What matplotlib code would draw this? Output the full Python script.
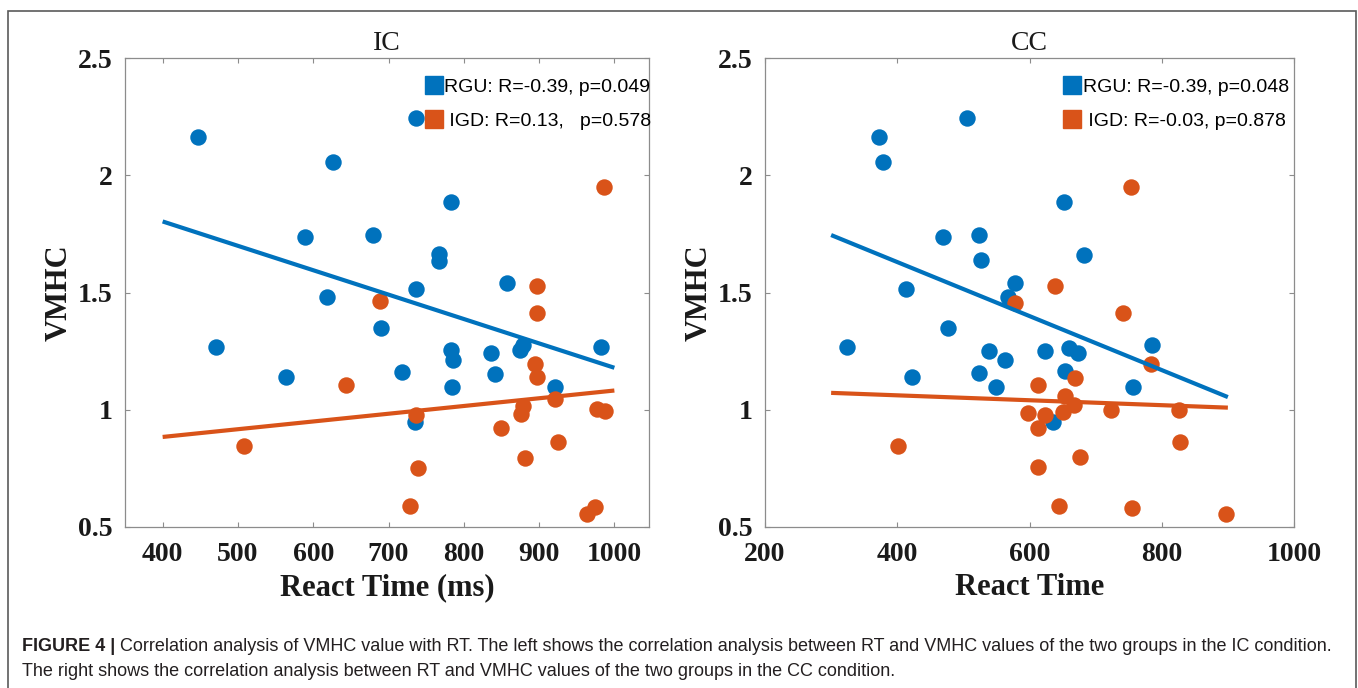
import numpy as np
import matplotlib.pyplot as plt
from matplotlib.lines import Line2D
from matplotlib.patches import Rectangle
from matplotlib.text import Annotation

# IC condition
ic_rgu_rt = [447, 626, 736, 783, 589, 679, 767, 767, 858, 736, 618, 690, 471,
             783, 786, 836, 874, 879, 982, 564, 718, 842, 784, 921, 735]
ic_rgu_vmhc = [2.163, 2.058, 2.245, 1.888, 1.735, 1.745, 1.664, 1.635, 1.539, 1.515,
               1.479, 1.348, 1.267, 1.255, 1.214, 1.244, 1.255, 1.274, 1.267, 1.139,
               1.160, 1.153, 1.099, 1.099, 0.948]
ic_igd_rt = [986, 897, 689, 897, 895, 897, 644, 921, 879, 876, 977, 988, 737, 850,
             508, 925, 881, 739, 729, 974, 964]
ic_igd_vmhc = [1.948, 1.528, 1.465, 1.413, 1.196, 1.139, 1.106, 1.047, 1.018, 0.983,
               1.004, 0.994, 0.976, 0.923, 0.844, 0.862, 0.795, 0.753, 0.590, 0.586,
               0.557]
ic_fit_x = [400, 1000]
ic_rgu_fit = [1.803, 1.179]
ic_igd_fit = [0.884, 1.082]
ic_labels = ['RGU: R=-0.39, p=0.049', ' IGD: R=0.13,   p=0.578']

# CC condition
cc_rgu_rt = [506, 373, 378, 652, 469, 523, 526, 682, 413, 578, 567, 477, 324, 786,
             538, 624, 659, 673, 563, 524, 653, 423, 549, 757, 635]
cc_rgu_vmhc = [2.245, 2.163, 2.058, 1.888, 1.735, 1.745, 1.638, 1.661, 1.515, 1.539,
               1.479, 1.348, 1.267, 1.277, 1.252, 1.252, 1.262, 1.243, 1.214, 1.156,
               1.165, 1.139, 1.099, 1.099, 0.948]
cc_igd_rt = [754, 638, 578, 742, 784, 669, 613, 653, 667, 651, 724, 826, 597, 624,
             613, 401, 827, 676, 613, 644, 755, 897]
cc_igd_vmhc = [1.948, 1.528, 1.455, 1.413, 1.196, 1.135, 1.106, 1.058, 1.019, 0.991,
               1.000, 0.997, 0.986, 0.976, 0.922, 0.845, 0.862, 0.799, 0.756, 0.590,
               0.583, 0.557]
cc_fit_x = [300, 900]
cc_rgu_fit = [1.745, 1.054]
cc_igd_fit = [1.072, 1.009]
cc_labels = ['RGU: R=-0.39, p=0.048', ' IGD: R=-0.03, p=0.878']

blue = '#0072BD'
orange = '#D95319'
serif = ['Liberation Serif', 'DejaVu Serif']

fig = plt.figure(figsize=(13.58, 6.88), dpi=100)
ax1 = fig.add_axes([125 / 1358, 1 - 527 / 688, 524 / 1358, 469 / 688])
ax2 = fig.add_axes([765 / 1358, 1 - 527 / 688, 529 / 1358, 469 / 688])


def panel(ax, title, xlabel, rx, ry, ox, oy, fx, fb, fo, labels, xlim, xticks, legx):
    ax.scatter(rx, ry, s=140, color=blue, linewidths=0, zorder=3)
    ax.scatter(ox, oy, s=140, color=orange, linewidths=0, zorder=3)
    ax.plot(fx, fb, color=blue, lw=3, zorder=4, solid_capstyle='butt')
    ax.plot(fx, fo, color=orange, lw=3, zorder=4, solid_capstyle='butt')
    ax.set_xlim(xlim)
    ax.set_ylim(0.5, 2.5)
    ax.set_xticks(xticks)
    ax.set_yticks([0.5, 1, 1.5, 2, 2.5])
    ax.set_yticklabels(['0.5', '1', '1.5', '2', '2.5'])
    for sp in ax.spines.values():
        sp.set_color('#8c8c8c')
        sp.set_linewidth(0.9)
    ax.tick_params(direction='in', length=3.5, width=0.8, color='#8c8c8c',
                   top=True, right=True, labelsize=20, pad=9)
    ax.tick_params(axis='x', pad=11)
    for lab in ax.get_xticklabels() + ax.get_yticklabels():
        lab.set_family(serif)
        lab.set_fontweight('bold')
        lab.set_color('#1a1a1a')
    ax.set_title(title, family=serif, fontsize=20, pad=6, color='#1a1a1a')
    ax.set_xlabel(xlabel, family=serif, fontsize=22, fontweight='bold',
                  labelpad=4, color='#1a1a1a')
    ax.set_ylabel('VMHC', family=serif, fontsize=22, fontweight='bold',
                  labelpad=3, color='#1a1a1a')
    handles = [Line2D([], [], marker='s', ls='', color=blue, markersize=12.5),
               Line2D([], [], marker='s', ls='', color=orange, markersize=12.5)]
    ax.legend(handles, labels, loc='upper right', bbox_to_anchor=(legx, 0.981),
              frameon=False, handlelength=0.85, handletextpad=0.12,
              borderpad=0.1, labelspacing=0.83,
              prop={'family': ['Liberation Sans', 'DejaVu Sans'], 'size': 14})


panel(ax1, 'IC', 'React Time (ms)', ic_rgu_rt, ic_rgu_vmhc, ic_igd_rt, ic_igd_vmhc,
      ic_fit_x, ic_rgu_fit, ic_igd_fit, ic_labels, (350, 1046),
      [400, 500, 600, 700, 800, 900, 1000], 1.027)
panel(ax2, 'CC', 'React Time', cc_rgu_rt, cc_rgu_vmhc, cc_igd_rt, cc_igd_vmhc,
      cc_fit_x, cc_rgu_fit, cc_igd_fit, cc_labels, (200, 1000),
      [200, 400, 600, 800, 1000], 1.013)

# outer frame of the figure panel
fig.add_artist(Rectangle((8 / 1358, -0.1), 1347.5 / 1358, 1.1 - 11 / 688,
                         transform=fig.transFigure, fill=False,
                         edgecolor='#5a5a5a', lw=1.2))

# caption
cap_font = ['Liberation Sans', 'DejaVu Sans']
t1 = fig.text(22 / 1358, 1 - 651 / 688, 'FIGURE 4 |', family=cap_font,
              fontsize=13, fontweight='bold', color='#231f20', va='baseline')
fig.add_artist(Annotation(
    ' Correlation analysis of VMHC value with RT. The left shows the correlation '
    'analysis between RT and VMHC values of the two groups in the IC condition.',
    xy=(1, 0), xycoords=t1, va='bottom', family=cap_font, fontsize=13,
    color='#231f20'))
fig.text(22 / 1358, 1 - 676 / 688,
         'The right shows the correlation analysis between RT and VMHC values of '
         'the two groups in the CC condition.', family=cap_font, fontsize=13,
         color='#231f20', va='baseline')

fig.savefig('out.png', dpi=100)
